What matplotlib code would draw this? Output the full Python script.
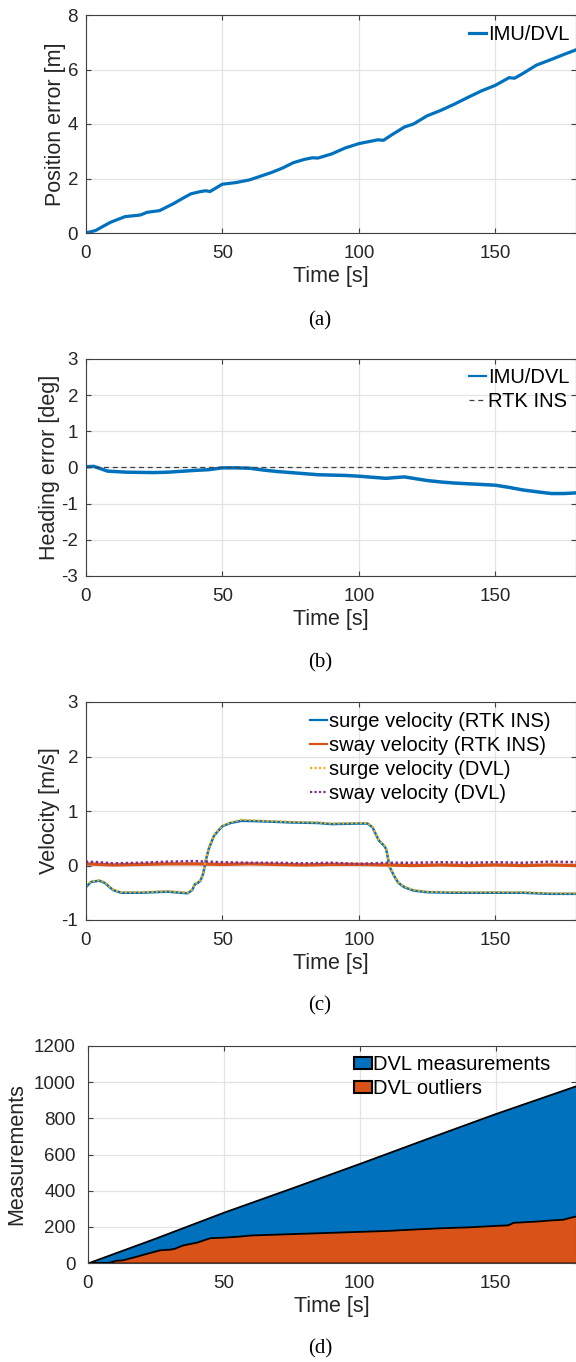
import matplotlib
matplotlib.use("Agg")
import matplotlib.pyplot as plt
from matplotlib.patches import Patch

plt.rcParams["font.family"] = ["Liberation Sans", "DejaVu Sans"]
plt.rcParams["axes.unicode_minus"] = False

BLUE = "#0072BD"
ORANGE = "#D95319"
YELLOW = "#EDB120"
PURPLE = "#7E2F8E"
SPINE = "#404040"

# (a) position error
t_pos = [0, 3.6, 9, 14.4, 20, 22.5, 27, 32, 36, 38.6, 42, 44, 45.5, 50, 55, 60, 63, 68, 72, 76,
         80, 83, 85, 90, 95, 100, 104, 107, 109, 112, 116.7, 120, 125, 130, 135, 140, 145, 150,
         155, 157, 160, 165, 170, 175, 180]
pos_err = [0.0, 0.09, 0.39, 0.6, 0.66, 0.76, 0.82, 1.07, 1.3, 1.44, 1.52, 1.55, 1.52, 1.79, 1.85,
           1.95, 2.05, 2.22, 2.38, 2.58, 2.7, 2.76, 2.75, 2.9, 3.12, 3.28, 3.36, 3.42, 3.4, 3.6,
           3.89, 4.0, 4.3, 4.5, 4.73, 4.98, 5.22, 5.42, 5.7, 5.68, 5.85, 6.16, 6.35, 6.55, 6.74]

# (b) heading error
t_head = [0, 3, 8, 15, 25, 30, 40, 45, 50, 55, 60, 65, 70, 75, 81.7, 85, 90, 95, 100, 105, 110,
          113, 116.7, 120, 125, 130, 135, 140, 145, 150, 155, 160, 165, 170.5, 175, 180]
head_err = [0.02, 0.03, -0.1, -0.13, -0.14, -0.13, -0.08, -0.06, -0.01, -0.01, -0.02, -0.07,
            -0.11, -0.14, -0.18, -0.2, -0.21, -0.22, -0.24, -0.27, -0.3, -0.28, -0.26, -0.3,
            -0.36, -0.4, -0.43, -0.45, -0.47, -0.49, -0.55, -0.62, -0.67, -0.72, -0.72, -0.7]
t_ref = [0, 180]
head_ref = [0, 0]

# (c) velocities
t_vel = [0, 2, 5, 7, 10, 13, 20, 30, 37.3, 39, 40, 41, 42, 43, 44, 45, 47, 50, 53, 57, 65, 75,
         85, 90, 100, 103.2, 105, 107.3, 109.3, 110, 111.3, 113, 114.5, 116.7, 120, 125, 135,
         150, 160, 170, 180]
surge_rtk = [-0.4, -0.3, -0.28, -0.32, -0.45, -0.5, -0.5, -0.48, -0.51, -0.45, -0.34, -0.32,
             -0.28, -0.15, 0.1, 0.3, 0.55, 0.72, 0.78, 0.82, 0.81, 0.79, 0.78, 0.76, 0.77, 0.77,
             0.7, 0.46, 0.36, 0.3, -0.03, -0.2, -0.32, -0.4, -0.46, -0.49, -0.5, -0.5, -0.5,
             -0.52, -0.52]
surge_dvl = [-0.38, -0.29, -0.27, -0.31, -0.44, -0.49, -0.49, -0.47, -0.5, -0.44, -0.33, -0.31,
             -0.27, -0.14, 0.11, 0.31, 0.56, 0.73, 0.79, 0.84, 0.82, 0.8, 0.79, 0.77, 0.78, 0.78,
             0.71, 0.47, 0.37, 0.31, -0.02, -0.19, -0.31, -0.39, -0.45, -0.48, -0.49, -0.49,
             -0.49, -0.51, -0.51]
t_sway = [0, 5, 10, 20, 30, 40, 50, 60, 70, 80, 90, 100, 110, 120, 130, 140, 150, 160, 170, 180]
sway_rtk = [0.03, 0.02, 0.01, 0.02, 0.03, 0.03, 0.02, 0.03, 0.02, 0.01, 0.02, 0.02, 0.01, 0.0,
            0.01, 0.0, 0.01, 0.0, 0.01, 0.0]
sway_dvl = [0.07, 0.06, 0.04, 0.05, 0.07, 0.08, 0.06, 0.05, 0.05, 0.04, 0.05, 0.03, 0.05, 0.05,
            0.06, 0.05, 0.06, 0.05, 0.07, 0.06]

# (d) cumulative DVL counts
t_meas = [0, 25, 50, 75, 100, 125, 150, 165, 180]
meas_total = [0, 138, 281, 415, 551, 690, 827, 905, 983]
t_out = [0, 7.7, 10.4, 13, 18, 22, 26.5, 30.5, 32, 35, 40, 45, 50, 55, 60, 70, 80, 90, 100, 110,
         120, 130, 140, 150, 154.4, 156.4, 165, 170, 174.6, 180]
outliers = [0, 4, 15, 18, 38, 55, 73, 77, 82, 100, 115, 140, 143, 148, 155, 160, 165, 170, 175,
            180, 188, 195, 200, 208, 211, 225, 232, 238, 242, 263]

W, H = 576, 1362
fig = plt.figure(figsize=(W / 100, H / 100), dpi=100)


def make_axes(left, top, bottom):
    return fig.add_axes([left / W, 1 - bottom / H, 1 - left / W, (bottom - top) / H])


def style(ax, ylim, yticks, ylabel, ypad=5.5, ylabelpad=1):
    ax.set_xlim(0, 179.5)
    ax.set_ylim(*ylim)
    ax.set_xticks([0, 50, 100, 150])
    ax.set_yticks(yticks)
    ax.grid(True, color="#e3e3e3", lw=0.9)
    ax.set_axisbelow(True)
    ax.tick_params(direction="in", length=3.5, width=0.8, color=SPINE, labelsize=13.5,
                   labelcolor="#262626", top=True, right=True)
    ax.tick_params(axis="x", pad=8.5)
    ax.tick_params(axis="y", pad=ypad)
    for s in ax.spines.values():
        s.set_color(SPINE)
        s.set_linewidth(0.8)
    ax.set_xlabel("Time [s]", fontsize=15.5, color="#262626", labelpad=3)
    ax.set_ylabel(ylabel, fontsize=15.5, color="#262626", labelpad=ylabelpad)


leg_kw = dict(frameon=False, fontsize=14.5, handlelength=0.85, handletextpad=0.1,
              borderpad=0, borderaxespad=0, labelspacing=0.25, loc="upper left")


def caption(y, text):
    fig.text(320 / W, 1 - y / H, text, ha="center", va="center",
             family="Liberation Serif", fontsize=15)


# (a)
ax = make_axes(85.7, 15, 233)
ax.plot(t_pos, pos_err, color=BLUE, lw=2.3, label="IMU/DVL")
style(ax, (0, 8), [0, 2, 4, 6, 8], "Position error [m]")
ax.legend(bbox_to_anchor=(469 / W, 1 - 25 / H), bbox_transform=fig.transFigure, **leg_kw)
caption(321, "(a)")

# (b)
ax = make_axes(85.7, 359, 576)
ax.plot(t_head, head_err, color=BLUE, lw=2.5, label="IMU/DVL")
ax.plot(t_ref, head_ref, color="#404040", lw=0.9, ls=(0, (4, 3)), label="RTK INS")
style(ax, (-3, 3), [-3, -2, -1, 0, 1, 2, 3], "Heading error [deg]")
leg = ax.legend(bbox_to_anchor=(469 / W, 1 - 368 / H), bbox_transform=fig.transFigure, **leg_kw)
leg.get_lines()[0].set_linewidth(1.6)
caption(663, "(b)")

# (c)
ax = make_axes(85.7, 702, 920)
ax.plot(t_vel, surge_rtk, color=BLUE, lw=1.8, label="surge velocity (RTK INS)")
ax.plot(t_sway, sway_rtk, color=ORANGE, lw=2.4, label="sway velocity (RTK INS)")
ax.plot(t_vel, surge_dvl, color=YELLOW, lw=1.6, ls=(0, (1, 1)), label="surge velocity (DVL)")
ax.plot(t_sway, sway_dvl, color=PURPLE, lw=1.8, ls=(0, (1, 1)), label="sway velocity (DVL)")
style(ax, (-1, 3), [-1, 0, 1, 2, 3], "Velocity [m/s]")
leg = ax.legend(bbox_to_anchor=(310 / W, 1 - 712 / H), bbox_transform=fig.transFigure, **leg_kw)
for ln in leg.get_lines():
    ln.set_linewidth(1.6)
caption(1006, "(c)")

# (d)
ax = make_axes(87.5, 1046, 1263)
ax.fill_between(t_meas, 0, meas_total, facecolor=BLUE, edgecolor="black", lw=1.3)
ax.fill_between(t_out, 0, outliers, facecolor=ORANGE, edgecolor="black", lw=1.3)
style(ax, (0, 1200), [0, 200, 400, 600, 800, 1000, 1200], "Measurements",
      ypad=8.5, ylabelpad=5)
handles = [Patch(facecolor=BLUE, edgecolor="black", lw=1.5, label="DVL measurements"),
           Patch(facecolor=ORANGE, edgecolor="black", lw=1.5, label="DVL outliers")]
d_kw = dict(leg_kw, handlelength=0.9, handleheight=0.55, handletextpad=0.05)
ax.legend(handles=handles, bbox_to_anchor=(354 / W, 1 - 1055 / H),
          bbox_transform=fig.transFigure, **d_kw)
caption(1349, "(d)")

fig.savefig("out.png", dpi=100)
